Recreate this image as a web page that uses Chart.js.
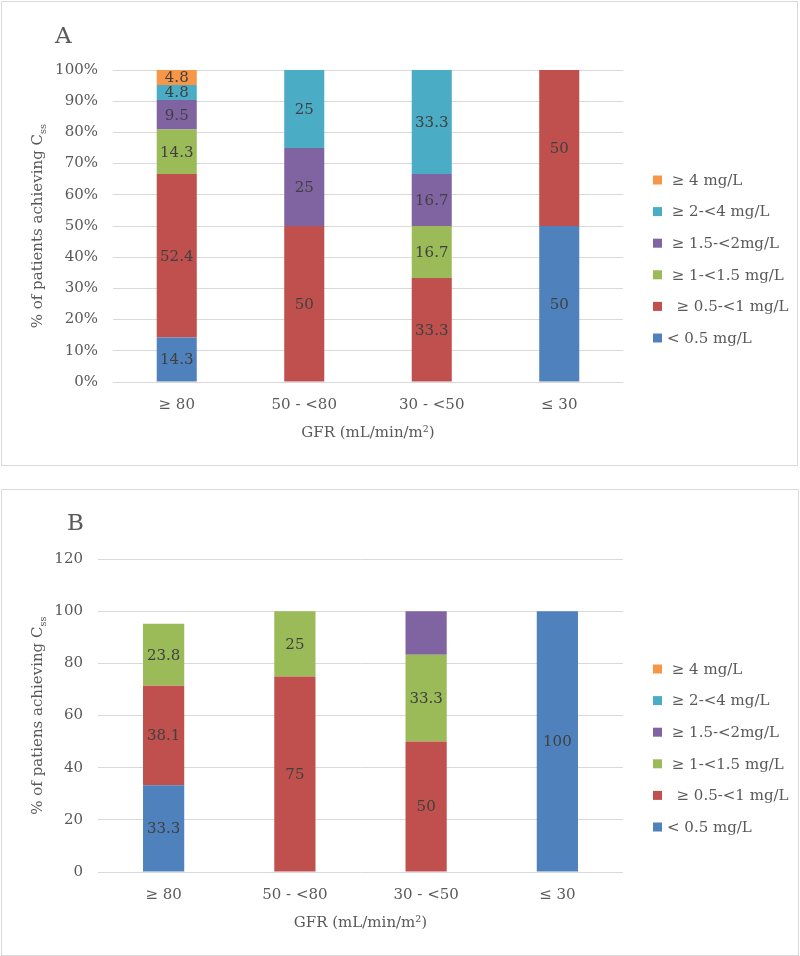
<!DOCTYPE html>
<html>
<head>
<meta charset="utf-8">
<script src="https://cdn.jsdelivr.net/npm/chart.js@4/dist/chart.umd.min.js"></script>
<style>
  body { margin: 0; background: #fff; width: 800px; height: 956px; position: relative; overflow: hidden; }
  .box { position: absolute; border: 1px solid #d9d9d9; box-sizing: border-box; }
  canvas { position: absolute; left: 0; }
</style>
</head>
<body>
<div class="box" style="left:1px; top:1px; width:797px; height:465px;"></div>
<div class="box" style="left:1px; top:489px; width:798px; height:467px;"></div>
<canvas id="chartA" width="800" height="468" style="top:0px;"></canvas>
<canvas id="chartB" width="800" height="468" style="top:488px;"></canvas>
<script>
// categories and series (stacking order, bottom to top)
const gfrGroups = ["\u2265 80", "50 - <80", "30 - <50", "\u2264 30"];
const seriesNames = ["< 0.5 mg/L", "  \u2265 0.5-<1 mg/L", " \u2265 1-<1.5 mg/L", " \u2265 1.5-<2mg/L", " \u2265 2-<4 mg/L", " \u2265 4 mg/L"];
const seriesColors = ["#4F81BD", "#C0504D", "#9BBB59", "#8064A2", "#4BACC6", "#F79646"];

// Panel A (100% stacked)
const aBelow05 = [14.3, 0, 0, 50];
const a05to1 = [52.4, 50, 33.3, 50];
const a1to15 = [14.3, 0, 16.7, 0];
const a15to2 = [9.5, 25, 16.7, 0];
const a2to4 = [4.8, 25, 33.3, 0];
const aAbove4 = [4.8, 0, 0, 0];
const aTicks = [0, 10, 20, 30, 40, 50, 60, 70, 80, 90, 100];

// Panel B
const bBelow05 = [33.3, 0, 0, 100];
const b05to1 = [38.1, 75, 50, 0];
const b1to15 = [23.8, 25, 33.3, 0];
const b15to2 = [0, 0, 16.7, 0];
const b2to4 = [0, 0, 0, 0];
const bAbove4 = [0, 0, 0, 0];
const bTicks = [0, 20, 40, 60, 80, 100, 120];
const bHiddenLabels = ["3:2"]; // the purple segment of 30 - <50 carries no label

const FONT = '"DejaVu Serif", "Liberation Serif", serif';
const TEXT = "#595959";

// draws value labels, panel letter, axis titles and legend
const overlay = {
  id: "overlay",
  afterDatasetsDraw(chart, args, opts) {
    const ctx = chart.ctx;
    ctx.save();
    ctx.font = "15px " + FONT;
    ctx.fillStyle = "#404040";
    ctx.textAlign = "center";
    ctx.textBaseline = "middle";
    chart.data.datasets.forEach((ds, i) => {
      chart.getDatasetMeta(i).data.forEach((bar, j) => {
        const v = ds.raw[j];
        if (!v || opts.hidden.includes(i + ":" + j)) return;
        const p = bar.getProps(["x", "y", "base"], true);
        ctx.fillText(String(v), p.x, (p.y + p.base) / 2 + 1);
      });
    });
    ctx.restore();
  },
  afterDraw(chart, args, opts) {
    const ctx = chart.ctx;
    const area = chart.chartArea;
    ctx.save();
    ctx.fillStyle = TEXT;

    // panel letter
    ctx.font = "23px " + FONT;
    ctx.textAlign = "left";
    ctx.textBaseline = "middle";
    ctx.fillText(opts.letter, opts.letterX, opts.letterY);

    // x title
    ctx.font = "15px " + FONT;
    ctx.textAlign = "center";
    ctx.fillText("GFR (mL/min/m\u00B2)", (area.left + area.right) / 2, area.bottom + 51);

    // y title with subscript
    const main = opts.yTitle;
    ctx.font = "15px " + FONT;
    const w1 = ctx.measureText(main).width;
    ctx.font = "10px " + FONT;
    const w2 = ctx.measureText("ss").width;
    ctx.translate(38, (area.top + area.bottom) / 2);
    ctx.rotate(-Math.PI / 2);
    ctx.textAlign = "left";
    ctx.font = "15px " + FONT;
    ctx.fillText(main, -(w1 + w2) / 2, 0);
    ctx.font = "10px " + FONT;
    ctx.fillText("ss", -(w1 + w2) / 2 + w1, 5);
    ctx.setTransform(1, 0, 0, 1, 0, 0);

    // legend, top to bottom in reverse stacking order
    ctx.font = "15px " + FONT;
    ctx.textAlign = "left";
    ctx.textBaseline = "middle";
    const ds = chart.data.datasets;
    for (let k = 0; k < ds.length; k++) {
      const d = ds[ds.length - 1 - k];
      const y = area.top + 110 + k * 31.6;
      const x = area.right + 30;
      ctx.fillStyle = d.backgroundColor;
      ctx.fillRect(x, y - 4.5, 9, 9);
      ctx.fillStyle = TEXT;
      ctx.fillText(d.label, x + 14, y + 1);
    }
    ctx.restore();
  }
};

function makeDatasets(values, normalize) {
  const totals = gfrGroups.map((g, j) => values.reduce((s, arr) => s + arr[j], 0));
  return values.map((arr, i) => ({
    label: seriesNames[i],
    raw: arr,
    data: normalize ? arr.map((v, j) => (totals[j] ? (v / totals[j]) * 100 : 0)) : arr,
    backgroundColor: seriesColors[i],
    borderWidth: 0,
    barPercentage: 0.314,
    categoryPercentage: 1,
  }));
}

function makeChart(canvas, datasets, opt) {
  return new Chart(canvas, {
    type: "bar",
    data: { labels: gfrGroups, datasets: datasets },
    options: {
      responsive: false,
      animation: false,
      devicePixelRatio: 1,
      layout: { padding: { top: opt.top, right: 177, bottom: opt.bottom, left: 0 } },
      plugins: {
        legend: { display: false },
        tooltip: { enabled: false },
        overlay: opt.overlay,
      },
      scales: {
        x: {
          stacked: true,
          grid: { display: false },
          border: { display: false },
          ticks: { color: TEXT, font: { family: FONT, size: 15 }, padding: 6 },
          afterFit: (s) => { s.height = 70; },
        },
        y: {
          stacked: true,
          min: 0,
          max: opt.ticks[opt.ticks.length - 1],
          afterBuildTicks: (s) => { s.ticks = opt.ticks.map((v) => ({ value: v })); },
          grid: { color: "#d9d9d9", drawTicks: false },
          border: { display: false },
          ticks: { color: TEXT, font: { family: FONT, size: 15 }, padding: 15, callback: opt.tickFmt },
          afterFit: (s) => { s.width = opt.yWidth; },
        },
      },
    },
    plugins: [overlay],
  });
}

makeChart(document.getElementById("chartA"),
  makeDatasets([aBelow05, a05to1, a1to15, a15to2, a2to4, aAbove4], true),
  {
    top: 70, bottom: 16, yWidth: 113, ticks: aTicks,
    tickFmt: (v) => v + "%",
    overlay: { letter: "A", letterX: 55, letterY: 37, yTitle: "% of patients achieving C", hidden: [] },
  });

makeChart(document.getElementById("chartB"),
  makeDatasets([bBelow05, b05to1, b1to15, b15to2, b2to4, bAbove4], false),
  {
    top: 71, bottom: 14, yWidth: 98, ticks: bTicks,
    tickFmt: (v) => v,
    overlay: { letter: "B", letterX: 67, letterY: 36, yTitle: "% of patiens achieving C", hidden: bHiddenLabels },
  });
</script>
</body>
</html>
